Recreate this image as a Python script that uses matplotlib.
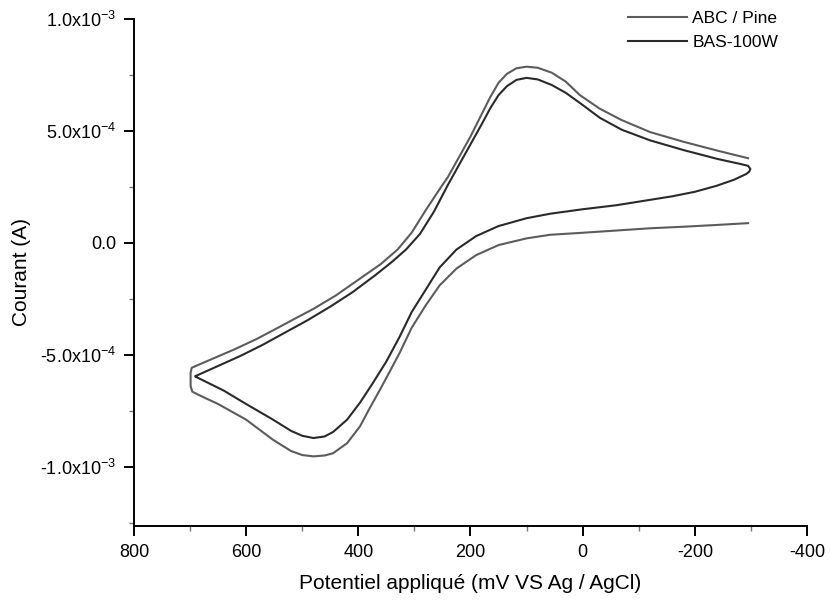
import matplotlib
matplotlib.use("Agg")
import matplotlib.pyplot as plt
from matplotlib.ticker import FixedLocator, MultipleLocator

# ---- data (potential in mV, current in A) ----
# BAS-100W : inner loop, sharp vertex at +690 mV, closed turn at -300 mV
bas_potential = [690, 650, 610, 570, 530, 490, 450, 410, 370, 340, 315, 290, 265, 240,
                 220, 200, 180, 165, 150, 135, 118, 100, 80, 55, 30, 5, -31, -70, -120,
                 -179, -240, -280, -295,
                 -299, -297, -292, -270, -239, -200, -160, -120, -60, 0, 58, 100, 150,
                 190, 225, 255, 280, 305, 326, 350, 375, 397, 420, 445, 460, 480, 500,
                 520, 552, 600, 640, 690]
bas_current = [-5.95e-4, -5.5e-4, -5.05e-4, -4.55e-4, -4.0e-4, -3.45e-4, -2.85e-4,
               -2.2e-4, -1.45e-4, -0.85e-4, -0.3e-4, 0.4e-4, 1.4e-4, 2.6e-4,
               3.5e-4, 4.4e-4, 5.3e-4, 6.0e-4, 6.6e-4, 7.0e-4, 7.28e-4, 7.37e-4,
               7.3e-4, 7.05e-4, 6.7e-4, 6.25e-4, 5.58e-4, 5.05e-4, 4.58e-4,
               4.15e-4, 3.75e-4, 3.53e-4, 3.44e-4,
               3.3e-4, 3.18e-4, 3.08e-4, 2.82e-4, 2.55e-4, 2.28e-4, 2.08e-4, 1.92e-4,
               1.68e-4, 1.5e-4, 1.3e-4, 1.1e-4, 0.75e-4,
               0.3e-4, -0.3e-4, -1.1e-4, -2.1e-4, -3.1e-4, -4.18e-4, -5.3e-4, -6.3e-4,
               -7.14e-4, -7.9e-4, -8.45e-4, -8.65e-4, -8.72e-4, -8.62e-4,
               -8.4e-4, -7.9e-4, -7.2e-4, -6.6e-4, -5.98e-4]

# ABC / Pine : outer loop, rounded vertex at +697 mV, open ends at -300 mV
abc_potential = [-295, -240, -180, -120, -60, 0, 58, 100, 150, 190, 225, 255, 280, 305,
                 326, 345, 360, 380, 397, 420, 445, 460, 480, 500, 520, 552, 600, 650,
                 680, 696,
                 699, 699, 697,
                 660, 620, 580, 540, 517, 480, 440, 400, 360, 330, 305, 280, 255, 240,
                 220, 200, 185, 165, 150, 135, 118, 100, 80, 55, 30, 5, -30, -69, -120,
                 -179, -240, -295]
abc_current = [0.88e-4, 0.8e-4, 0.72e-4, 0.65e-4, 0.55e-4, 0.45e-4, 0.36e-4, 0.2e-4,
               -0.1e-4, -0.55e-4, -1.15e-4, -1.9e-4, -2.8e-4, -3.8e-4,
               -4.9e-4, -5.8e-4, -6.5e-4, -7.4e-4, -8.2e-4, -8.95e-4, -9.4e-4, -9.5e-4,
               -9.54e-4, -9.48e-4, -9.3e-4, -8.8e-4, -7.9e-4, -7.2e-4,
               -6.85e-4, -6.65e-4,
               -6.4e-4, -5.8e-4, -5.58e-4,
               -5.18e-4, -4.75e-4, -4.28e-4, -3.75e-4, -3.44e-4, -2.95e-4, -2.35e-4,
               -1.65e-4, -0.95e-4, -0.3e-4, 0.45e-4, 1.45e-4, 2.4e-4, 2.95e-4,
               3.85e-4, 4.75e-4, 5.5e-4, 6.5e-4, 7.15e-4, 7.55e-4, 7.8e-4, 7.87e-4,
               7.82e-4, 7.6e-4, 7.2e-4, 6.6e-4, 6.0e-4, 5.49e-4, 4.95e-4,
               4.52e-4, 4.12e-4, 3.78e-4]

series_labels = ["ABC / Pine", "BAS-100W"]
x_ticks = [800, 600, 400, 200, 0, -200, -400]
y_ticks = [1.0e-3, 5.0e-4, 0.0, -5.0e-4, -1.0e-3]
y_tick_labels = [r"1.0x10$^{-3}$", r"5.0x10$^{-4}$", "0.0", r"-5.0x10$^{-4}$", r"-1.0x10$^{-3}$"]

plt.rcParams['font.family'] = ['Liberation Sans', 'DejaVu Sans']
plt.rcParams['axes.unicode_minus'] = False
plt.rcParams['mathtext.default'] = 'regular'

fig = plt.figure(figsize=(8.3, 6.03), dpi=100)
ax = fig.add_axes([0.1614, 0.1277, 0.8109, 0.8408])

ax.plot(abc_potential, abc_current, color="#5c5c5c", lw=1.5, label=series_labels[0],
        solid_joinstyle="round")
ax.plot(bas_potential, bas_current, color="#2a2a2a", lw=1.5, label=series_labels[1],
        solid_joinstyle="round")

ax.set_xlim(800, -400)
ax.set_ylim(-1.265e-3, 1.0e-3)
ax.xaxis.set_major_locator(FixedLocator(x_ticks))
ax.xaxis.set_minor_locator(MultipleLocator(100))
ax.set_yticks(y_ticks)
ax.set_yticklabels(y_tick_labels)
ax.yaxis.set_minor_locator(MultipleLocator(2.5e-4))

for s in ["top", "right"]:
    ax.spines[s].set_visible(False)
for s in ["left", "bottom"]:
    ax.spines[s].set_linewidth(1.4)
ax.tick_params(axis="both", which="major", direction="out", length=7, width=1.4,
               labelsize=13, pad=6)
ax.tick_params(axis="both", which="minor", direction="out", length=3.5, width=1.0,
               color="#777777")

ax.set_xlabel("Potentiel appliqué (mV VS Ag / AgCl)", fontsize=15, labelpad=9)
ax.set_ylabel("Courant (A)", fontsize=15, labelpad=6)

ax.legend(loc="upper right", bbox_to_anchor=(0.957, 1.016), frameon=False, fontsize=12.5,
          handlelength=3.4, handletextpad=0.3, labelspacing=0.52, borderaxespad=0,
          borderpad=0)

fig.savefig("out.png", dpi=100)
